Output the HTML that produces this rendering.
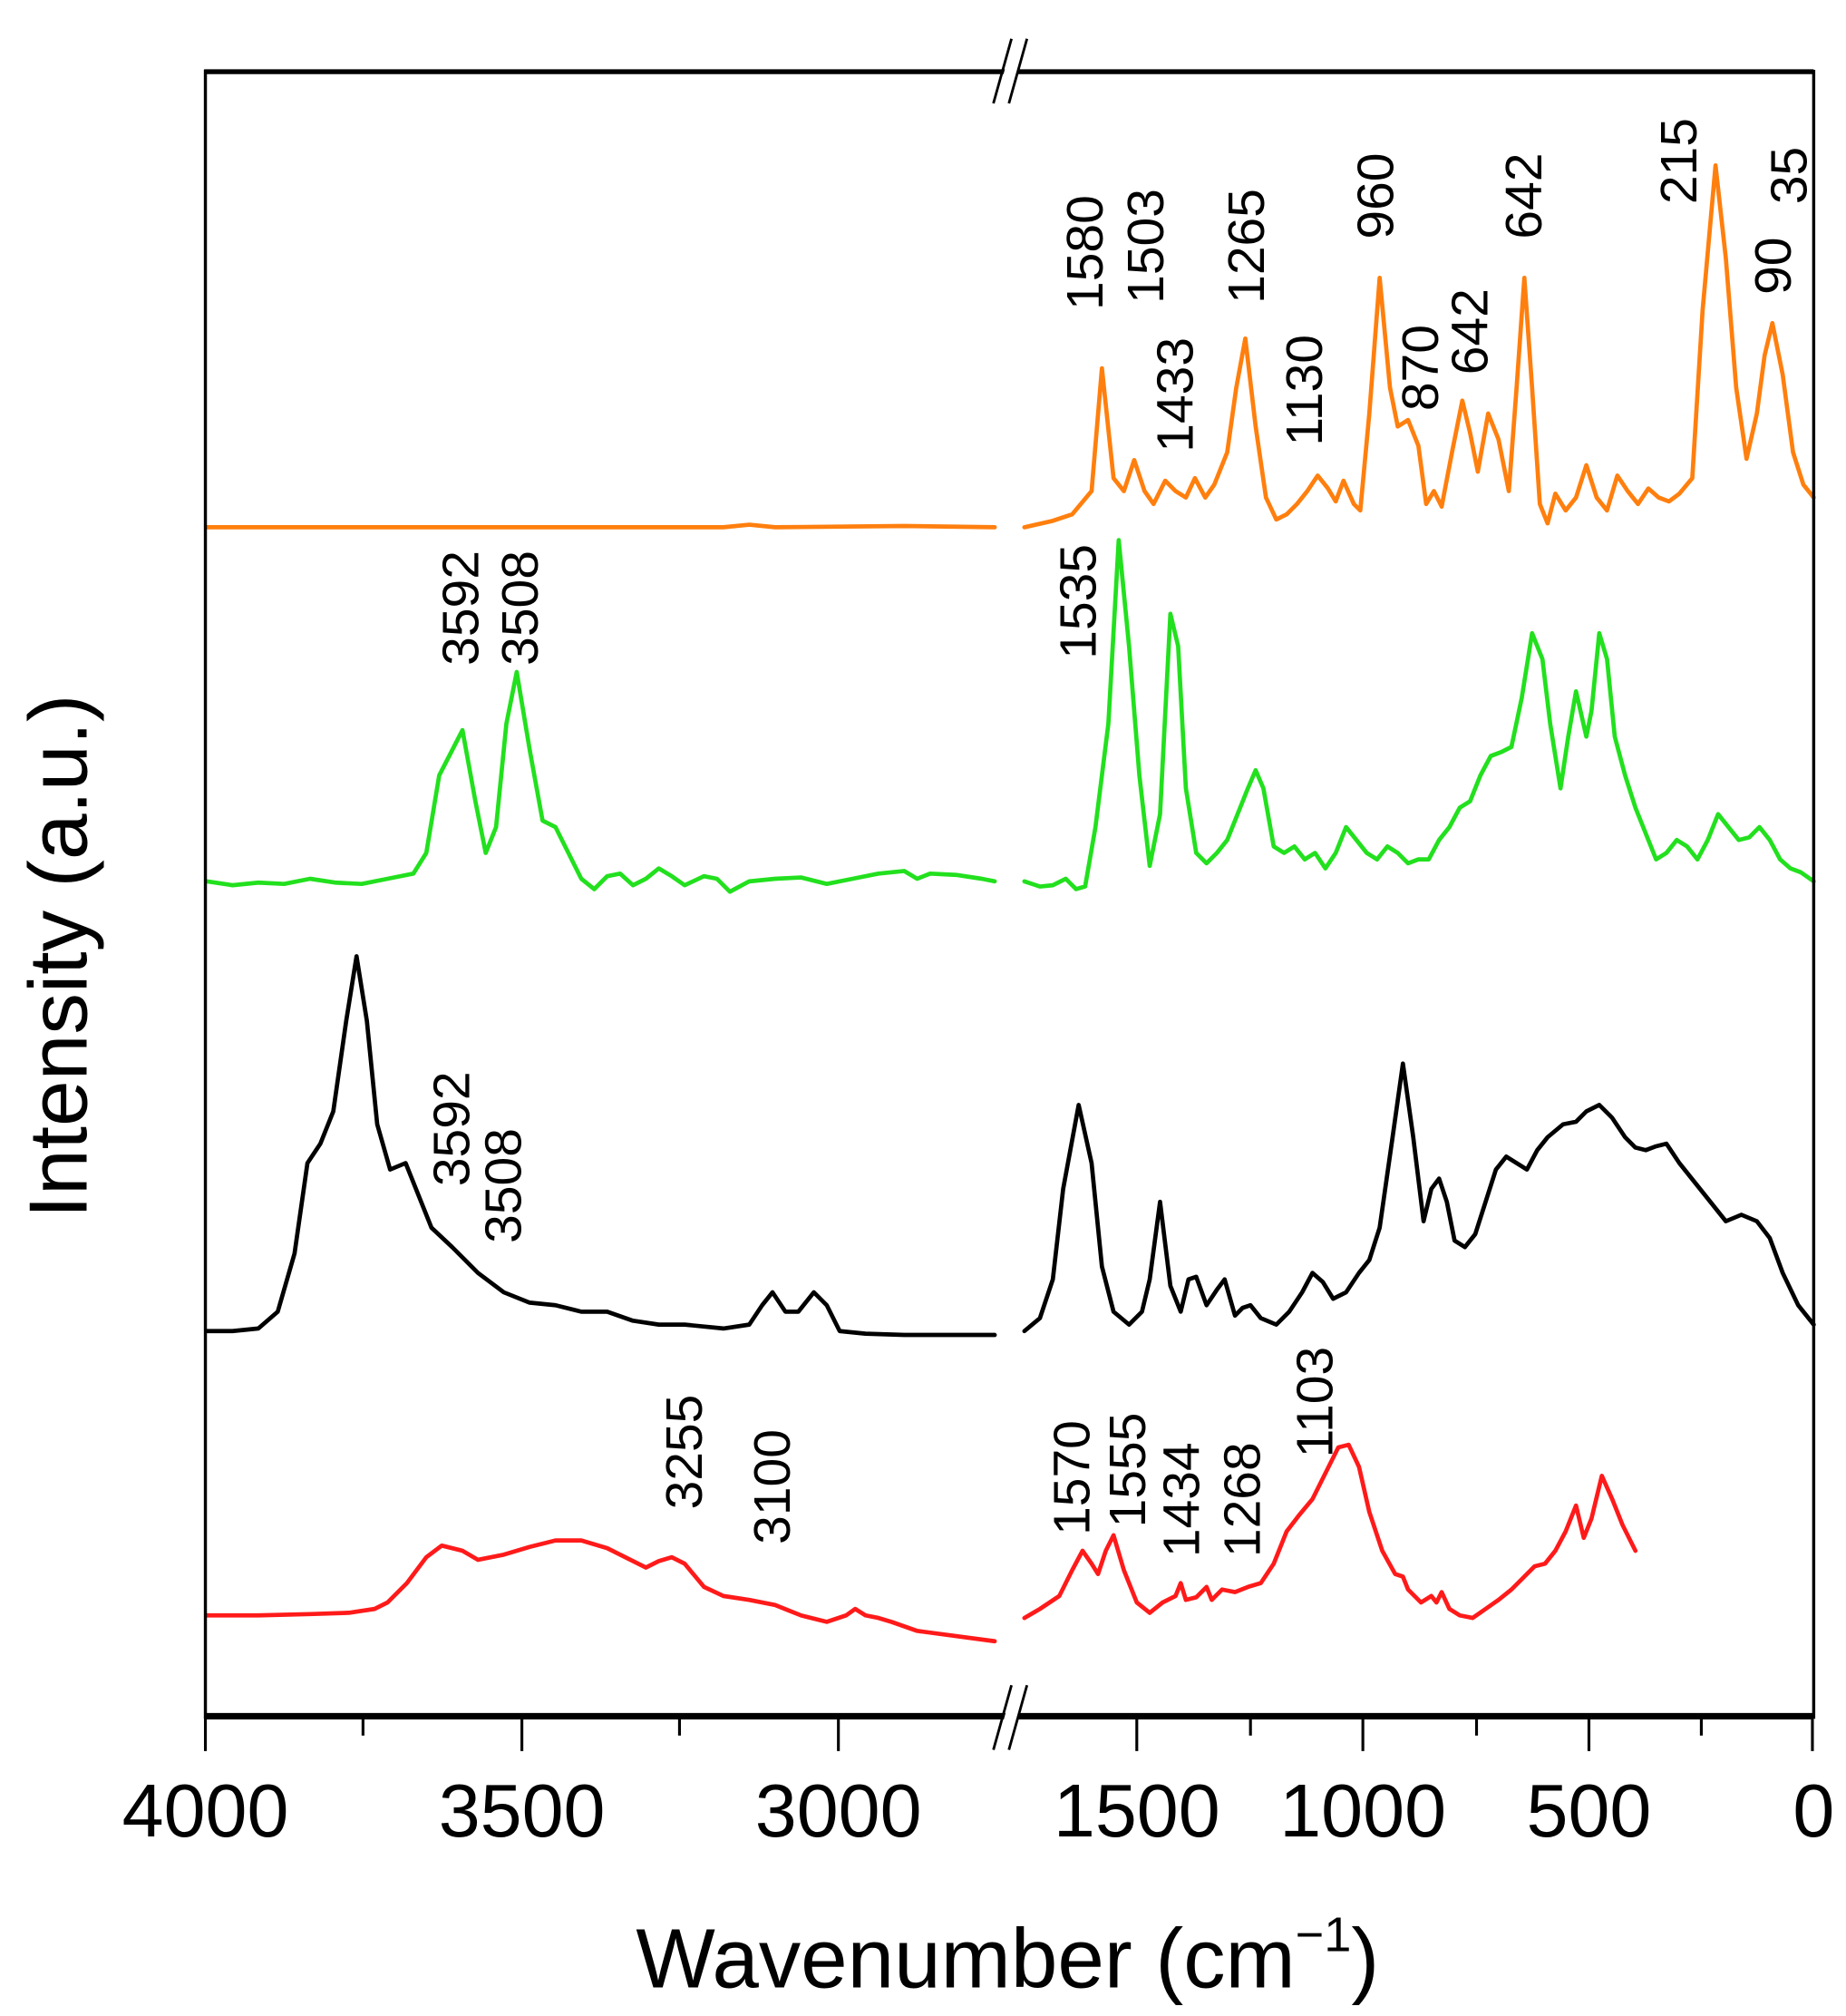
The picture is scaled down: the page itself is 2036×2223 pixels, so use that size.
<!DOCTYPE html>
<html><head><meta charset="utf-8"><style>
html,body{margin:0;padding:0;background:#fff;}
svg{display:block;}
text{font-family:"Liberation Sans",Arial,sans-serif;}
</style></head><body>
<svg width="2036" height="2223" viewBox="0 0 1429 1560" preserveAspectRatio="none" xmlns="http://www.w3.org/2000/svg">
<rect width="1429" height="1560" fill="#fff"/>
<g fill="none" stroke-width="3.3" stroke-linejoin="round" stroke-linecap="round">
<polyline stroke="#ff7f0e" points="160,408 560,408 580,406 600,408 700,407 770,408"/>
<polyline stroke="#ff7f0e" points="793,408 815,403 830,398 845,380 853,285 862,370 870,380 878,356 886,380 893,390 902,372 910,380 918,385 925,370 933,385 940,375 950,350 957,300 964,262 972,330 980,385 988,402 996,398 1004,390 1012,380 1020,368 1028,378 1034,388 1040,372 1048,390 1053,395 1060,320 1068,215 1076,300 1082,330 1090,325 1098,345 1104,390 1110,380 1116,392 1124,350 1132,310 1138,335 1144,365 1152,320 1160,340 1168,380 1174,300 1180,215 1186,300 1192,390 1198,405 1204,382 1212,395 1220,385 1228,360 1236,385 1244,395 1252,368 1260,380 1268,390 1276,378 1284,385 1292,388 1300,382 1310,370 1318,240 1328,128 1336,200 1344,300 1352,355 1360,320 1366,275 1372,250 1380,290 1388,350 1396,375 1404,385"/>
<polyline stroke="#22e01e" points="160,682 180,685 200,683 220,684 240,680 260,683 280,684 300,680 320,676 330,660 340,600 358,565 368,620 376,660 384,640 392,560 400,520 410,580 420,635 430,640 440,660 450,680 460,688 470,678 480,676 490,685 500,680 510,672 520,678 530,685 545,678 555,680 565,690 580,682 600,680 620,679 640,684 660,680 680,676 700,674 710,680 720,676 740,677 760,680 770,682"/>
<polyline stroke="#22e01e" points="793,682 805,686 815,685 825,680 833,688 840,686 848,640 858,560 866,418 874,500 882,600 890,670 898,630 906,475 912,500 918,610 926,660 934,668 942,660 950,650 958,630 966,610 972,596 978,610 986,655 994,660 1002,655 1010,665 1018,660 1026,672 1034,660 1042,640 1050,650 1058,660 1066,665 1074,655 1082,660 1090,668 1098,665 1106,665 1114,650 1122,640 1130,625 1138,620 1146,600 1154,585 1162,582 1170,578 1178,540 1186,490 1194,510 1200,560 1208,610 1214,570 1220,535 1228,570 1232,550 1238,490 1244,510 1250,570 1258,600 1266,625 1274,645 1282,665 1290,660 1298,650 1306,655 1314,665 1322,650 1330,630 1338,640 1346,650 1354,648 1362,640 1370,650 1378,665 1386,672 1394,675 1404,682"/>
<polyline stroke="#000" points="160,1030 180,1030 200,1028 215,1015 228,970 238,900 248,885 258,860 268,790 276,740 284,790 292,870 302,905 314,900 324,925 334,950 350,965 370,985 390,1000 410,1008 430,1010 450,1015 470,1015 490,1022 510,1025 530,1025 560,1028 580,1025 590,1010 598,1000 608,1015 618,1015 630,1000 640,1010 650,1030 670,1032 700,1033 740,1033 770,1033"/>
<polyline stroke="#000" points="793,1030 805,1020 815,990 823,920 835,855 845,900 853,980 862,1015 874,1025 884,1015 890,990 898,930 906,995 914,1015 920,990 926,988 934,1010 942,998 948,990 956,1018 962,1012 968,1010 976,1020 988,1025 998,1015 1008,1000 1016,985 1024,992 1032,1005 1042,1000 1052,985 1060,975 1068,950 1078,880 1086,823 1094,880 1102,945 1108,920 1114,912 1120,930 1126,960 1134,965 1142,955 1150,930 1158,905 1166,895 1174,900 1182,905 1190,890 1198,880 1210,870 1220,868 1228,860 1238,855 1248,865 1258,880 1266,888 1274,890 1282,887 1290,885 1300,900 1312,915 1324,930 1336,945 1348,940 1360,945 1370,958 1380,985 1392,1010 1404,1025"/>
<polyline stroke="#ff1a1a" points="160,1250 200,1250 240,1249 270,1248 290,1245 300,1240 315,1225 330,1205 342,1196 358,1200 370,1207 390,1203 410,1197 430,1192 450,1192 470,1198 490,1208 500,1213 510,1208 520,1205 530,1210 545,1228 560,1235 580,1238 600,1242 620,1250 640,1255 655,1250 662,1245 670,1250 680,1252 690,1255 710,1262 740,1266 770,1270"/>
<polyline stroke="#ff1a1a" points="793,1252 805,1245 820,1235 830,1215 838,1200 845,1210 850,1218 856,1200 862,1188 870,1215 880,1240 890,1248 900,1240 910,1235 914,1225 918,1238 926,1236 934,1228 938,1238 946,1230 956,1232 966,1228 976,1225 986,1210 996,1185 1006,1172 1016,1160 1026,1140 1036,1120 1044,1118 1052,1135 1060,1170 1070,1200 1080,1218 1086,1220 1090,1230 1100,1240 1108,1235 1112,1240 1116,1232 1122,1245 1130,1250 1140,1252 1150,1245 1160,1238 1170,1230 1180,1220 1188,1212 1196,1210 1204,1200 1212,1185 1220,1165 1226,1190 1232,1175 1240,1142 1248,1160 1256,1180 1266,1200"/>
</g>
<g stroke="#000">
<line x1="158" y1="55.5" x2="1404" y2="55.5" stroke-width="3.8"/>
<line x1="158" y1="1328" x2="1404" y2="1328" stroke-width="5"/>
<line x1="159" y1="54" x2="159" y2="1330" stroke-width="2.4"/>
<line x1="1404" y1="54" x2="1404" y2="1330" stroke-width="2.4"/>
<g stroke-width="2.2">
<line x1="159" y1="1328" x2="159" y2="1355"/><line x1="404" y1="1328" x2="404" y2="1355"/><line x1="649" y1="1328" x2="649" y2="1355"/>
<line x1="281" y1="1328" x2="281" y2="1343"/><line x1="526" y1="1328" x2="526" y2="1343"/>
<line x1="880" y1="1328" x2="880" y2="1355"/><line x1="1055" y1="1328" x2="1055" y2="1355"/><line x1="1230" y1="1328" x2="1230" y2="1355"/><line x1="1403" y1="1328" x2="1403" y2="1355"/>
<line x1="968" y1="1328" x2="968" y2="1343"/><line x1="1143" y1="1328" x2="1143" y2="1343"/><line x1="1317" y1="1328" x2="1317" y2="1343"/>
</g>
</g>
<polygon points="770,82 785,28 795,28 780,82" fill="#fff"/>
<polygon points="770,1356 785,1302 795,1302 780,1356" fill="#fff"/>
<g stroke="#000" stroke-width="2">
<line x1="769" y1="80" x2="783" y2="30"/><line x1="781" y1="80" x2="795" y2="30"/>
<line x1="769" y1="1354" x2="783" y2="1304"/><line x1="781" y1="1354" x2="795" y2="1304"/>
</g>
<g font-size="58" text-anchor="middle" fill="#000">
<text x="159" y="1421">4000</text><text x="404" y="1421">3500</text><text x="649" y="1421">3000</text>
<text x="880" y="1421">1500</text><text x="1055" y="1421">1000</text><text x="1230" y="1421">500</text><text x="1404" y="1421">0</text>
</g>
<text x="780" y="1538" font-size="65" text-anchor="middle">Wavenumber (cm<tspan dy="-28" font-size="38">−1</tspan><tspan dy="28">)</tspan></text>
<text transform="translate(67,740) rotate(-90)" font-size="64" text-anchor="middle">Intensity (a.u.)</text>
<g font-size="40" fill="#000" dominant-baseline="central">
<text transform="translate(840,240) rotate(-90)">1580</text>
<text transform="translate(887,235) rotate(-90)">1503</text>
<text transform="translate(910,350) rotate(-90)">1433</text>
<text transform="translate(965,235) rotate(-90)">1265</text>
<text transform="translate(1010,345) rotate(-90)">1130</text>
<text transform="translate(1065,185) rotate(-90)">960</text>
<text transform="translate(1100,318) rotate(-90)">870</text>
<text transform="translate(1138,290) rotate(-90)">642</text>
<text transform="translate(1180,185) rotate(-90)">642</text>
<text transform="translate(1300,158) rotate(-90)">215</text>
<text transform="translate(1373,228) rotate(-90)">90</text>
<text transform="translate(1385,158) rotate(-90)">35</text>
<text transform="translate(357,515) rotate(-90)">3592</text>
<text transform="translate(403,515) rotate(-90)">3508</text>
<text transform="translate(835,510) rotate(-90)">1535</text>
<text transform="translate(350,918) rotate(-90)">3592</text>
<text transform="translate(390,962) rotate(-90)">3508</text>
<text transform="translate(530,1168) rotate(-90)">3255</text>
<text transform="translate(598,1195) rotate(-90)">3100</text>
<text transform="translate(830,1188) rotate(-90)">1570</text>
<text transform="translate(873,1182) rotate(-90)">1555</text>
<text transform="translate(915,1205) rotate(-90)">1434</text>
<text transform="translate(962,1205) rotate(-90)">1268</text>
<text transform="translate(1018,1128) rotate(-90)">1103</text>
</g>
</svg>
</body></html>
